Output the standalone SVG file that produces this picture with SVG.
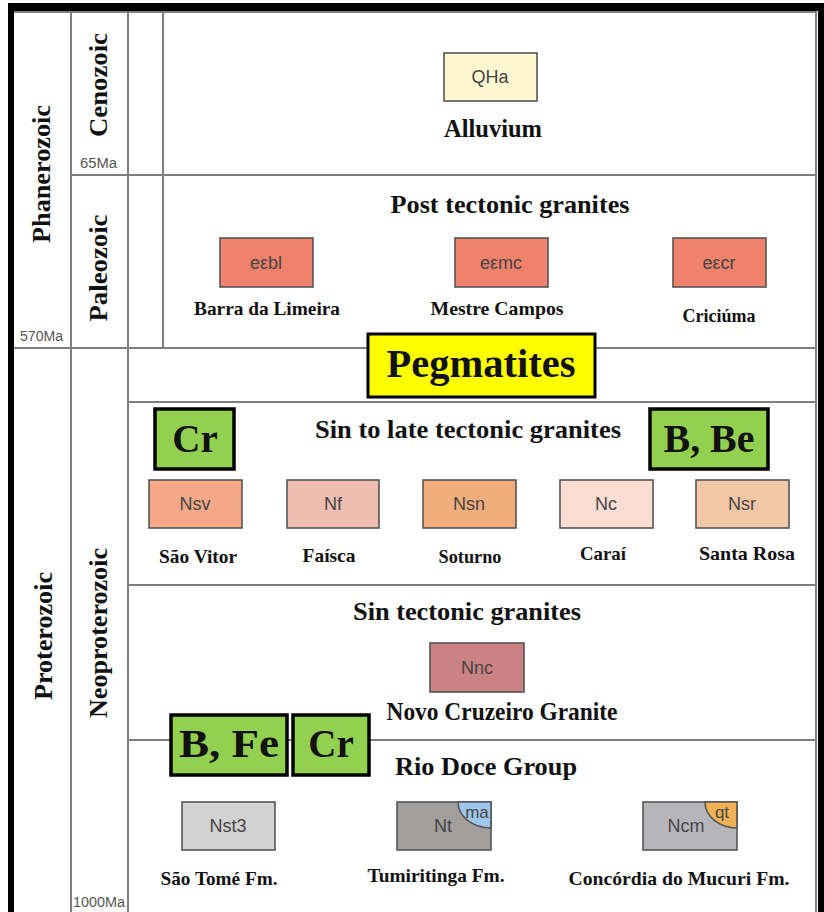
<svg xmlns="http://www.w3.org/2000/svg" width="824" height="912" viewBox="0 0 824 912">
<style>
.grid{stroke:#7f7f7f;stroke-width:2;fill:none}
.unit{stroke:#555;stroke-width:1.6}
.code{font-family:"Liberation Sans",Arial,sans-serif;font-size:18px;fill:#454545;text-anchor:middle}
.small{font-family:"Liberation Sans",Arial,sans-serif;font-size:14px;fill:#555;text-anchor:start}
.era{font-family:"Liberation Serif","Times New Roman",serif;font-weight:bold;font-size:26px;fill:#111;text-anchor:middle}
.head{font-family:"Liberation Serif","Times New Roman",serif;font-weight:bold;font-size:26px;fill:#111;text-anchor:middle}
.lab{font-family:"Liberation Serif","Times New Roman",serif;font-weight:bold;font-size:19px;fill:#111;text-anchor:middle}
.tag{fill:#92d050;stroke:#000;stroke-width:3.5}
.tagt{font-family:"Liberation Serif","Times New Roman",serif;font-weight:bold;font-size:39px;fill:#111;text-anchor:middle}
</style>
<rect x="0" y="0" width="824" height="912" fill="#fff"/>
<g id="frame">
<rect x="8" y="3" width="816" height="8" fill="#000"/>
<rect x="8" y="3" width="6" height="909" fill="#000"/>
<rect x="818" y="3" width="6" height="909" fill="#000"/>
<line class="grid" x1="14" y1="12" x2="817" y2="12"/>
<line class="grid" x1="816" y1="12" x2="816" y2="912"/>
<line class="grid" x1="71" y1="12" x2="71" y2="912"/>
<line class="grid" x1="128" y1="12" x2="128" y2="912"/>
<line class="grid" x1="163" y1="12" x2="163" y2="348"/>
<line class="grid" x1="71" y1="175" x2="817" y2="175"/>
<line class="grid" x1="14" y1="348" x2="817" y2="348"/>
<line class="grid" x1="128" y1="402" x2="817" y2="402"/>
<line class="grid" x1="128" y1="585" x2="817" y2="585"/>
<line class="grid" x1="128" y1="740" x2="817" y2="740"/>
</g>
<g id="timescale">
<text class="era" transform="translate(50,174) rotate(-90)" textLength="138" lengthAdjust="spacingAndGlyphs">Phanerozoic</text>
<text class="era" transform="translate(107,85) rotate(-90)" textLength="104" lengthAdjust="spacingAndGlyphs">Cenozoic</text>
<text class="era" transform="translate(107,268) rotate(-90)" textLength="107" lengthAdjust="spacingAndGlyphs">Paleozoic</text>
<text class="era" transform="translate(52,636) rotate(-90)" textLength="128" lengthAdjust="spacingAndGlyphs">Proterozoic</text>
<text class="era" transform="translate(107,633) rotate(-90)" textLength="170" lengthAdjust="spacingAndGlyphs">Neoproterozoic</text>
<text class="small" x="80" y="168" textLength="37" lengthAdjust="spacingAndGlyphs">65Ma</text>
<text class="small" x="20" y="341" textLength="43" lengthAdjust="spacingAndGlyphs">570Ma</text>
<text class="small" x="73" y="907" textLength="52" lengthAdjust="spacingAndGlyphs">1000Ma</text>
</g>
<g id="headings">
<text class="head" x="493" y="137" textLength="98" lengthAdjust="spacingAndGlyphs">Alluvium</text>
<text class="head" x="510" y="213" textLength="239" lengthAdjust="spacingAndGlyphs">Post tectonic granites</text>
<text class="head" x="468" y="438" textLength="306" lengthAdjust="spacingAndGlyphs">Sin to late tectonic granites</text>
<text class="head" x="467" y="620" textLength="228" lengthAdjust="spacingAndGlyphs">Sin tectonic granites</text>
<text class="head" x="502" y="720" textLength="231" lengthAdjust="spacingAndGlyphs">Novo Cruzeiro Granite</text>
<text class="head" x="486" y="775" textLength="182" lengthAdjust="spacingAndGlyphs">Rio Doce Group</text>
</g>
<g id="QHa"><rect class="unit" x="444" y="53" width="93" height="48" fill="#fdf7cf"/><text class="code" x="490" y="83">QHa</text></g>
<g id="ebl"><rect class="unit" x="220" y="238" width="93" height="49" fill="#f0816a"/><text class="code" x="266" y="269">eεbl</text><text class="lab" x="267" y="315" textLength="146" lengthAdjust="spacingAndGlyphs">Barra da Limeira</text></g>
<g id="emc"><rect class="unit" x="455" y="238" width="93" height="49" fill="#f0816a"/><text class="code" x="501" y="269">eεmc</text><text class="lab" x="497" y="315" textLength="133" lengthAdjust="spacingAndGlyphs">Mestre Campos</text></g>
<g id="ecr"><rect class="unit" x="673" y="238" width="93" height="49" fill="#f0816a"/><text class="code" x="719" y="269">eεcr</text><text class="lab" x="719" y="322" textLength="73" lengthAdjust="spacingAndGlyphs">Criciúma</text></g>
<g id="Nsv"><rect class="unit" x="149" y="480" width="93" height="48" fill="#f4a887"/><text class="code" x="195" y="510">Nsv</text><text class="lab" x="198" y="563" textLength="78" lengthAdjust="spacingAndGlyphs">São Vitor</text></g>
<g id="Nf"><rect class="unit" x="287" y="480" width="92" height="48" fill="#efbcb2"/><text class="code" x="333" y="510">Nf</text><text class="lab" x="329" y="562" textLength="53" lengthAdjust="spacingAndGlyphs">Faísca</text></g>
<g id="Nsn"><rect class="unit" x="423" y="480" width="93" height="48" fill="#f2ad7c"/><text class="code" x="469" y="510">Nsn</text><text class="lab" x="470" y="563" textLength="63" lengthAdjust="spacingAndGlyphs">Soturno</text></g>
<g id="Nc"><rect class="unit" x="560" y="480" width="93" height="48" fill="#fbdcd1"/><text class="code" x="606" y="510">Nc</text><text class="lab" x="603" y="560" textLength="46" lengthAdjust="spacingAndGlyphs">Caraí</text></g>
<g id="Nsr"><rect class="unit" x="696" y="480" width="93" height="48" fill="#f3c6a5"/><text class="code" x="742" y="510">Nsr</text><text class="lab" x="747" y="560" textLength="96" lengthAdjust="spacingAndGlyphs">Santa Rosa</text></g>
<g id="Nnc"><rect class="unit" x="430" y="643" width="94" height="49" fill="#cb8282"/><text class="code" x="477" y="674">Nnc</text></g>
<g id="Nst3"><rect class="unit" x="182" y="802" width="93" height="48" fill="#d2d2d2"/><text class="code" x="228" y="832">Nst3</text><text class="lab" x="219" y="885" textLength="117" lengthAdjust="spacingAndGlyphs">São Tomé Fm.</text></g>
<g id="Nt"><rect class="unit" x="397" y="802" width="94" height="48" fill="#a19e9e"/><path d="M458 802 A33 26 0 0 0 491 828 L491 802 Z" fill="#9fc6ec" stroke="#555" stroke-width="1.6"/><text class="code" x="443" y="832">Nt</text><text class="code" x="477" y="818" style="font-size:17px">ma</text><text class="lab" x="436" y="882" textLength="137" lengthAdjust="spacingAndGlyphs">Tumiritinga Fm.</text></g>
<g id="Ncm"><rect class="unit" x="643" y="802" width="94" height="48" fill="#b5b5ba"/><path d="M705 802 A32 26 0 0 0 737 828 L737 802 Z" fill="#f0b255" stroke="#555" stroke-width="1.6"/><text class="code" x="686" y="832">Ncm</text><text class="code" x="722" y="818" style="font-size:17px">qt</text><text class="lab" x="679" y="885" textLength="221" lengthAdjust="spacingAndGlyphs">Concórdia do Mucuri Fm.</text></g>
<g id="pegmatites"><rect x="368" y="334" width="227" height="63" fill="#ffff00" stroke="#000" stroke-width="3"/><text class="tagt" x="481" y="377" textLength="189" lengthAdjust="spacingAndGlyphs">Pegmatites</text></g>
<g id="tag-Cr-top"><rect class="tag" x="155" y="409" width="79" height="60"/><text class="tagt" x="195" y="452">Cr</text></g>
<g id="tag-BBe"><rect class="tag" x="650" y="409" width="118" height="60"/><text class="tagt" x="709" y="452" textLength="91" lengthAdjust="spacingAndGlyphs">B, Be</text></g>
<g id="tag-BFe"><rect class="tag" x="171" y="715" width="116" height="60"/><text class="tagt" x="229" y="757" textLength="100" lengthAdjust="spacingAndGlyphs">B, Fe</text></g>
<g id="tag-Cr-bottom"><rect class="tag" x="293" y="715" width="76" height="60"/><text class="tagt" x="331" y="757">Cr</text></g>
<g id="connectors"></g>
</svg>
